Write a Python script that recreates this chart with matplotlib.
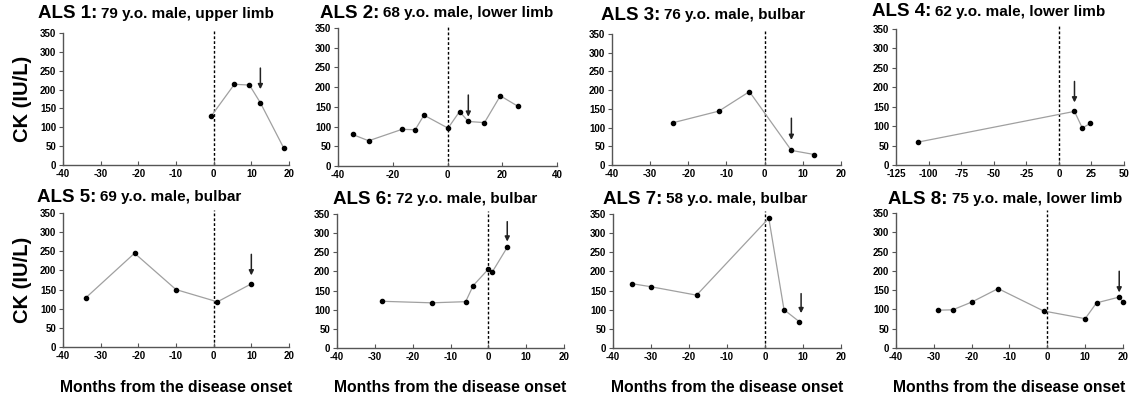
import numpy as np
import matplotlib
matplotlib.use('Agg')
import matplotlib.pyplot as plt

plt.rcParams['font.family'] = ['Liberation Sans', 'DejaVu Sans']
plt.rcParams['font.weight'] = 'bold'
plt.rcParams['axes.unicode_minus'] = False

# data (months from onset, CK in IU/L)
titles = ['ALS 1:', 'ALS 2:', 'ALS 3:', 'ALS 4:', 'ALS 5:', 'ALS 6:', 'ALS 7:', 'ALS 8:']
subtitles = ['79 y.o. male, upper limb', '68 y.o. male, lower limb', '76 y.o. male, bulbar',
             '62 y.o. male, lower limb', '69 y.o. male, bulbar', '72 y.o. male, bulbar',
             '58 y.o. male, bulbar', '75 y.o. male, lower limb']

months_1 = [-0.7, 5.5, 9.5, 12.4, 18.6]
ck_1 = [129, 214, 212, 165, 45]
months_2 = [-34.7, -28.8, -16.6, -11.8, -8.6, 0.2, 4.4, 7.6, 13.5, 19.3, 25.6]
ck_2 = [80, 64, 93, 92, 129, 96, 138, 113, 110, 178, 152]
months_3 = [-24, -12, -4, 7, 13]
ck_3 = [113, 144, 196, 39, 28]
months_4 = [-108, 12, 18, 24]
ck_4 = [59, 138, 95, 107]
months_5 = [-34, -21, -10, 1, 10]
ck_5 = [128, 245, 150, 118, 165]
months_6 = [-28, -15, -6, -4, 0, 1, 5]
ck_6 = [122, 118, 121, 163, 206, 198, 263]
months_7 = [-35, -30, -18, 1, 5, 9]
ck_7 = [168, 160, 138, 339, 100, 69]
months_8 = [-29, -25, -20, -13, -1, 10, 13, 19, 20]
ck_8 = [98, 99, 119, 154, 96, 76, 117, 132, 119]

months = [months_1, months_2, months_3, months_4, months_5, months_6, months_7, months_8]
cks = [ck_1, ck_2, ck_3, ck_4, ck_5, ck_6, ck_7, ck_8]

# arrows: x position, tail value, tip value
arrow_x = [12.4, 7.6, 7, 12, 10, 5, 9.5, 19]
arrow_tail = [257, 180, 125, 215, 242, 330, 142, 199]
arrow_tip = [201, 125, 67, 161, 187, 278, 91, 144]

xlims = [(-40, 20), (-40, 40), (-40, 20), (-125, 50), (-40, 20), (-40, 20), (-40, 20), (-40, 20)]
xsteps = [10, 20, 10, 25, 10, 10, 10, 10]

# layout in pixels (left, right, top, bottom)
W, H = 1136, 403
boxes = [(63, 289, 33, 165), (338, 557, 28, 166), (612, 841, 34, 165), (896, 1124, 29, 165),
         (63, 289, 213, 347), (337, 564, 214, 348), (613, 841, 214, 348), (896, 1123, 213, 348)]
title_pos = [(38, 14), (320, 13), (601, 15), (872, 12), (37, 197), (333, 199), (603, 199), (888, 199)]

fig = plt.figure(figsize=(W / 100, H / 100), dpi=100)
axis_col = '#555555'

for i in range(8):
    l, r, t, b = boxes[i]
    ax = fig.add_axes([l / W, 1 - b / H, (r - l) / W, (b - t) / H])
    ax.plot(months[i], cks[i], color='#a0a0a0', lw=0.9, zorder=2, clip_on=False)
    ax.plot(months[i], cks[i], 'o', color='black', ms=3, zorder=3, clip_on=False)
    ax.axvline(0, 0, 1.02, color='black', lw=1, ls=(0, (2, 1.5)), clip_on=False, zorder=1)
    ax.annotate('', xy=(arrow_x[i], arrow_tip[i]), xytext=(arrow_x[i], arrow_tail[i]),
                arrowprops=dict(arrowstyle='-|>', color='#222222', lw=1.1, mutation_scale=7,
                                shrinkA=0, shrinkB=0))
    x0, x1 = xlims[i]
    ax.set_xlim(x0, x1)
    ax.set_ylim(0, 350)
    ax.set_xticks(np.arange(x0, x1 + 1, xsteps[i]))
    ax.set_yticks(np.arange(0, 351, 50))
    for s in ['top', 'right']:
        ax.spines[s].set_visible(False)
    for s in ['left', 'bottom']:
        ax.spines[s].set_color(axis_col)
        ax.spines[s].set_linewidth(1)
    ax.tick_params(axis='y', direction='out', length=3, color=axis_col, labelsize=7, pad=2)
    ax.tick_params(axis='x', direction='in', length=3, color=axis_col, labelsize=7, pad=3)
    for lab in ax.get_xticklabels() + ax.get_yticklabels():
        lab.set_fontweight('bold')

    tx, ty = title_pos[i]
    t1 = fig.text(tx / W, 1 - ty / H, titles[i], fontsize=13.5, fontweight='bold', va='center', ha='left')
    fig.canvas.draw()
    ext = t1.get_window_extent()
    fig.text(ext.x1 / W + 4 / W, 1 - ty / H, subtitles[i], fontsize=11, fontweight='bold',
             va='center', ha='left')

    if i % 4 == 0:
        fig.text(22 / W, 1 - ((t + b) / 2) / H, 'CK (IU/L)', rotation=90, fontsize=14.5,
                 fontweight='bold', ha='center', va='center')
    if i >= 4:
        fig.text(((l + r) / 2) / W, 1 - 387 / H, 'Months from the disease onset', fontsize=11.3,
                 fontweight='bold', ha='center', va='center')

fig.savefig('out.png', dpi=100)
